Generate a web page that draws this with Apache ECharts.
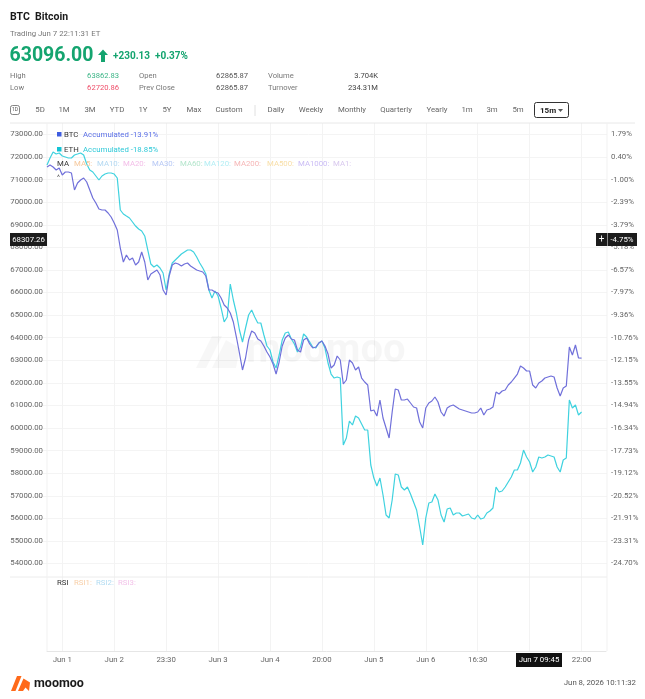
<!DOCTYPE html>
<html><head><meta charset="utf-8">
<script src="https://cdn.jsdelivr.net/npm/echarts@6/dist/echarts.min.js"></script>
<style>html,body{margin:0;padding:0;background:#fff}#c{width:645px;height:699px}</style>
</head><body><div id="c"></div>
<script>
// ---- data ----
const btcValues = [71561,71649,71561,71428,71516,71206,71339,71339,71295,70542,70852,70985,71073,70896,70542,70188,69966,69700,69656,69656,
69523,69346,69080,68770,67973,67353,67663,67442,67530,67220,67353,67796,67353,66556,66822,66910,66999,66777,66113,65891,
66733,67220,67309,67264,67176,67264,67309,67176,67087,66999,66954,66910,66733,66113,66113,66024,65980,65759,65449,65316,
65094,64696,64031,63323,62570,63101,63898,64297,64208,63943,63854,63633,63367,63146,62835,62392,62924,63633,63987,64120,
63943,63898,63456,63367,63898,63987,63721,63544,63588,63766,63854,63633,63278,62658,62791,63190,63013,61950,62127,63013,
62880,62570,62703,62215,62038,61905,60754,60798,60532,61241,60444,60001,59558,60710,61728,61684,61241,61241,61285,61108,
60931,60887,60267,60001,60887,61108,61197,61374,61152,60710,60532,60887,60975,61020,60931,60842,60798,60754,60710,60665,
60665,60710,60887,60577,60798,60842,60931,61595,61507,61640,61684,61905,62038,62215,62392,62747,62658,62525,62525,61905,
61772,61994,62082,62215,62260,62304,62260,61772,61418,61772,61861,63588,63234,63677,63101,63096];
const ethValues = [71649,71959,72225,72136,72181,72048,72004,71959,71959,72092,72136,72181,72092,71693,71428,71339,71162,70985,71162,71250,
71295,71295,71250,71073,69656,69479,69390,69302,69125,68947,68815,68726,68505,67884,67264,67132,67220,67087,66866,66113,
66822,67309,67442,67574,67707,67796,67884,67884,67796,67574,67309,67087,66822,66113,65759,66069,65847,65316,64696,64917,
66379,65670,65094,64341,63810,64430,65006,65227,64917,64651,64651,64120,63633,63456,62924,62658,63234,63898,64208,64253,
63943,63721,63367,63588,64164,64031,63810,63588,63544,63766,63854,63544,62880,62392,62215,62260,62215,59248,59558,60311,
60134,60532,60444,60178,59912,59912,58362,57786,57432,57786,57033,56148,56015,56812,57964,57919,57388,57255,57388,57078,
56723,56369,55616,54819,56015,56679,56723,57078,56812,56148,55838,56413,56458,56148,56236,56236,56103,56148,56192,56015,
55970,56148,55970,56015,56236,56325,56458,57388,57166,57211,57388,57609,57831,58141,58141,58451,59026,58716,58495,58052,
58274,58716,58672,58716,58805,58761,58716,58274,58052,58584,58672,61241,60887,61020,60577,60710];
const xTickIndex = [5,22,39,56,73,90,107,124,141,158,175];
const xTickLabels = ['Jun 1','Jun 2','23:30','Jun 3','Jun 4','20:00','Jun 5','Jun 6','16:30','Jun 7','22:00'];
const pctLabels = ['-24.70%','-23.31%','-21.91%','-20.52%','-19.12%','-17.73%','-16.34%','-14.94%','-13.55%','-12.15%',
'-10.76%','-9.36%','-7.97%','-6.57%','-5.18%','-3.79%','-2.39%','-1.00%','0.40%','1.79%'];
const yMin = 54000, yMax = 73000, yStep = 1000;
const totalSlots = 184;
const categories = Array.from({length: totalSlots}, (_, i) => String(i));
const maNames = ['MA5:','MA10:','MA20:','MA30:','MA60:','MA120:','MA200:','MA500:','MA1000:','MA1:'];
const rsiNames = ['RSI1:','RSI2:','RSI3:'];
const periodTabs = ['5D','1M','3M','YTD','1Y','5Y','Max','Custom','Daily','Weekly','Monthly','Quarterly','Yearly','1m','3m','5m'];

// ---- styles ----
const FONT = 'Roboto, "Noto Sans", sans-serif';
const BTC_C = '#7070da', ETH_C = '#3fd2df', GREEN = '#14a46f';
const maX = [74,97,123,152,180,204,234,267,298,333];
const maC = ['#f6c79a','#b2d8f2','#f3bde8','#b6c8f5','#b4e5cc','#b2eef4','#f6b6b6','#f8dea6','#cabcf5','#d8c8ee'];
const rsiX = [74,96,118];
const rsiC = ['#f8cfa8','#b2dcf2','#f3c4ea'];
const tabX = [40,64,90,117,143,167,194,229,276,311,352,396,437,467,492,518];

const isTick = (i) => xTickIndex.indexOf(i) >= 0;
const G = [];
function T(x, y, text, size, color, opt) {
  opt = opt || {};
  G.push({type:'text', z: opt.z || 50, silent:true, style:{x:x, y:y, text:text, fill:color,
    font:(opt.bold ? 'bold ' : '') + size + 'px ' + FONT, textAlign: opt.align || 'left', textVerticalAlign:'middle'}});
}
function L(x1,y1,x2,y2,c){ G.push({type:'line', z:1, silent:true, shape:{x1:x1,y1:y1,x2:x2,y2:y2}, style:{stroke:c, lineWidth:1}}); }
function R(x,y,w,h,fill,opt){ opt=opt||{}; G.push({type:'rect', z:opt.z||60, silent:true, shape:{x:x,y:y,width:w,height:h,r:opt.r||0}, style:{fill:fill, stroke:opt.stroke||null, lineWidth:opt.lw||1}}); }
function P(points, fill, z){ G.push({type:'polygon', z:z||50, silent:true, shape:{points:points}, style:{fill:fill}}); }

// header
T(10,17,'BTC',10.5,'#1a1a1a',{bold:true});
T(35,17,'Bitcoin',10.5,'#1a1a1a',{bold:true});
T(10,34.5,'Trading Jun 7 22:11:31 ET',7.8,'#777');
T(9.5,56.5,'63096.00',19.5,GREEN,{bold:true});
P([[103,49.5],[108,55],[105,55],[105,62],[101,62],[101,55],[98,55]], GREEN);
T(113,56.5,'+230.13',10,GREEN,{bold:true});
T(155,56.5,'+0.37%',10,GREEN,{bold:true});
T(10,76,'High',7.6,'#777'); T(119,76,'63862.83',7.6,'#3db587',{align:'right'});
T(139,76,'Open',7.6,'#777'); T(248,76,'62865.87',7.6,'#555',{align:'right'});
T(268,76,'Volume',7.6,'#777'); T(378,76,'3.704K',7.6,'#444',{align:'right'});
T(10,88.5,'Low',7.6,'#777'); T(119,88.5,'62720.86',7.6,'#ef4f6a',{align:'right'});
T(139,88.5,'Prev Close',7.6,'#777'); T(248,88.5,'62865.87',7.6,'#555',{align:'right'});
T(268,88.5,'Turnover',7.6,'#777'); T(378,88.5,'234.31M',7.6,'#444',{align:'right'});
// tabs
R(10.5,105.5,9,9,'none',{stroke:'#666',r:2,lw:0.8,z:40});
T(15,110.2,'1D',5,'#555',{align:'center'});
periodTabs.forEach((t,i)=>T(tabX[i],110.5,t,7.8,'#666',{align:'center'}));
L(255,105,255,116,'#e0e0e0');
R(534.5,102.5,34,15,'none',{stroke:'#333',r:2,lw:1,z:40});
T(540,110.5,'15m',8,'#1a1a1a',{bold:true});
P([[558,109],[563,109],[560.5,112]],'#555');
// frame lines
L(10,123,635,123,'#e8e8e8');
L(10,577,607,577,'#ececec');
L(47,123,47,651,'#f1f1f1');
L(607,123,607,651,'#f1f1f1');
// legend
R(57,132,4.5,4.5,'#3e5ce0',{z:50});
T(64,134.8,'BTC',7.8,'#333'); T(83,134.8,'Accumulated -13.91%',7.8,'#5a6fe6');
R(57,147,4.5,4.5,'#12c3d4',{z:50});
T(64,149.8,'ETH',7.8,'#333'); T(83,149.8,'Accumulated -18.85%',7.8,'#2fc9d8');
T(57,164.5,'MA',7.8,'#333');
maNames.forEach((t,i)=>T(maX[i],164.5,t,7.8,maC[i]));
T(57,178,'^',7,'#555');
T(57,583,'RSI',7.8,'#333');
rsiNames.forEach((t,i)=>T(rsiX[i],583,t,7.8,rsiC[i]));
// watermark
P([[196,368],[212,336],[222,336],[206,368]],'rgba(0,0,0,0.03)',2);
P([[212,368],[226,340],[240,348],[236,368]],'rgba(0,0,0,0.03)',2);
T(246,352,'moomoo',40,'rgba(0,0,0,0.035)',{bold:true,z:2});
// crosshair labels
R(10,233,37,13,'#1c1c1c'); T(28.5,239.8,'68307.26',7.8,'#fff',{align:'center',z:61});
R(596,233,11,13,'#1c1c1c'); T(601.5,239.5,'+',10,'#fff',{align:'center',z:61});
R(607.5,233,29.5,13,'#1c1c1c'); T(622,239.8,'-4.75%',7.8,'#fff',{align:'center',z:61});
R(516,653,46,14,'#111'); T(539,660.3,'Jun 7 09:45',7.8,'#fff',{align:'center',z:61});
// footer
P([[11,691],[17,676],[21.5,676],[15.5,691]],'#ff6a1a');
P([[18,691],[23.5,678.5],[30,682.5],[29,691],[25.5,687.5],[23,691]],'#ff6a1a');
T(34,683.5,'moomoo',12.5,'#1a1a1a',{bold:true});
T(636,683.5,'Jun 8, 2026 10:11:32',7.8,'#555',{align:'right'});

const chart = echarts.init(document.getElementById('c'), null, {renderer:'canvas'});
const hiddenX = (gi) => ({type:'category', gridIndex:gi, data:categories, boundaryGap:false,
  axisLine:{show:false}, axisTick:{show:false}, axisLabel:{show:false}, splitLine:{show:false}});
chart.setOption({
  animation:false,
  backgroundColor:'#fff',
  textStyle:{fontFamily:FONT},
  grid:[
    {left:47, top:134.5, width:559, height:429},   // main
    {left:47, top:577, width:559, height:74},      // RSI
    {left:10, top:134.5, width:597, height:429},   // horizontal grid lines
    {left:47, top:123, width:559, height:528}      // vertical grid lines
  ],
  xAxis:[
    hiddenX(0),
    Object.assign(hiddenX(1), {axisLine:{show:true, lineStyle:{color:'#e6e6e6'}},
      axisLabel:{show:true, interval:(i)=>isTick(i), margin:5, fontSize:7.8, color:'#666', fontFamily:FONT,
        formatter:(v,i)=>{const k=xTickIndex.indexOf(i); return k>=0?xTickLabels[k]:'';}}}),
    Object.assign(hiddenX(2), {type:'value', min:0, max:1, data:undefined}),
    Object.assign(hiddenX(3), {splitLine:{show:true, interval:(i)=>isTick(i), lineStyle:{color:'#f3f3f3', width:1}}})
  ],
  yAxis:[
    {type:'value', gridIndex:0, min:yMin, max:yMax, interval:yStep, position:'left',
      axisLine:{show:false}, axisTick:{show:false}, splitLine:{show:false},
      axisLabel:{margin:4, fontSize:7.8, color:'#666', fontFamily:FONT, formatter:(v)=>v.toFixed(2)}},
    {type:'value', gridIndex:0, min:yMin, max:yMax, interval:yStep, position:'right',
      axisLine:{show:false}, axisTick:{show:false}, splitLine:{show:false},
      axisLabel:{margin:5, fontSize:7.8, color:'#666', fontFamily:FONT,
        formatter:(v)=>pctLabels[Math.round((v-yMin)/yStep)]}},
    {type:'value', gridIndex:1, show:false},
    {type:'value', gridIndex:2, min:yMin, max:yMax, interval:yStep,
      axisLine:{show:false}, axisTick:{show:false}, axisLabel:{show:false},
      splitLine:{show:true, lineStyle:{color:'#f4f4f4', width:1}}},
    {type:'value', gridIndex:3, show:false}
  ],
  series:[
    {name:'ETH', type:'line', xAxisIndex:0, yAxisIndex:0, data:ethValues, showSymbol:false, z:3,
      lineStyle:{color:ETH_C, width:1.2}, itemStyle:{color:ETH_C}},
    {name:'BTC', type:'line', xAxisIndex:0, yAxisIndex:0, data:btcValues, showSymbol:false, z:4,
      lineStyle:{color:BTC_C, width:1.2}, itemStyle:{color:BTC_C}}
  ],
  graphic:G
});
</script>
</body></html>
